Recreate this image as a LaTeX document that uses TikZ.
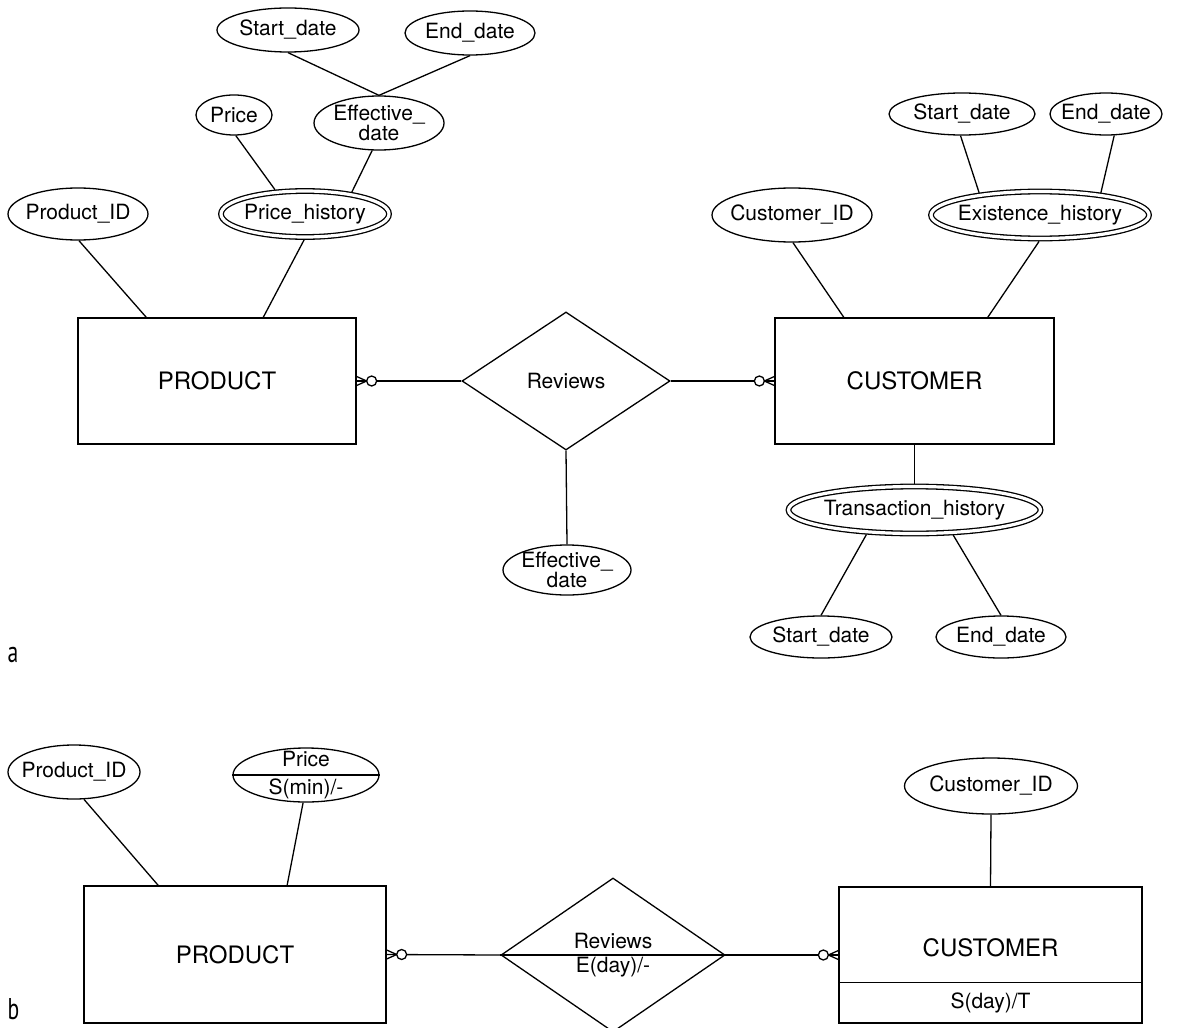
\documentclass[tikz,border=0pt]{standalone}
\usepackage{fontspec}
\usepackage{graphicx}
\setmainfont{TeX Gyre Heros}
\newfontfamily\labfont{PT Sans}
\usetikzlibrary{shapes.geometric,calc}
\begin{document}
\begin{tikzpicture}[x=1pt,y=-1pt,line width=1.3pt,
  attr/.style args={#1x#2}{ellipse,draw,minimum width=#1pt,minimum height=#2pt,
    inner xsep=-20pt,inner ysep=-6pt,font=\fontsize{21}{20}\selectfont,align=center},
  mattr/.style args={#1x#2}{attr=#1x#2,double,double distance=3.2pt,outer sep=2.9pt},
  entity/.style args={#1x#2}{rectangle,draw,minimum width=#1pt,minimum height=#2pt,
    inner sep=0pt,font=\fontsize{24}{28}\selectfont},
  rel/.style args={#1x#2}{diamond,draw,minimum width=#1pt,minimum height=#2pt,
    inner sep=-4pt,font=\fontsize{21}{24}\selectfont,align=center},
  txt/.style={inner sep=0pt,font=\fontsize{21}{24}\selectfont},
  panel/.style={inner sep=0pt,anchor=base west,font=\labfont\fontsize{30}{30}\selectfont},
  crowsfoot/.pic={\draw (0,4.5) -- (10,0) -- (0,-4.5); \draw[fill=white] (15,0) circle (5);}
]
\clip (0,0) rectangle (1182,1027);
\path[fill=white] (0,0) rectangle (1182,1027);

% ---------- part a ----------
\node[attr=142x44] (sd1) at (288,30) {Start\_date};
\node[attr=130x44] (ed1) at (470,33) {End\_date};
\node[attr=76x40] (pr1) at (234,115) {Price};
\node[attr=130x54] (ef1) at (379,123) {Effective\_\\date};
\node[mattr=168x46] (ph) at (305,214) {Price\_history};
\node[attr=140x52] (pid) at (78,214) {Product\_ID};
\node[entity=278x126] (prod) at (217,381) {PRODUCT};
\node[rel=208x138] (rev) at (566,381) {Reviews};
\node[entity=279x126] (cust) at (914.5,381) {CUSTOMER};
\node[attr=160x54] (cid) at (792,215) {Customer\_ID};
\node[mattr=218x47] (eh) at (1040,215) {Existence\_history};
\node[attr=146x42] (sd2) at (962,114) {Start\_date};
\node[attr=112x42] (ed2) at (1106,114) {End\_date};
\node[mattr=252x47] (th) at (914.5,510) {Transaction\_history};
\node[attr=142x42] (sd3) at (821,637) {Start\_date};
\node[attr=130x42] (ed3) at (1001,637) {End\_date};
\node[attr=128x50] (ef2) at (567,570) {Effective\_\\date};
\node[panel] (la) at (7,662) {\scalebox{0.72}[1]{a}};

\draw (sd1.south) -- (ef1.north);
\draw (ed1.south) -- (ef1.north);
\draw (pr1.-85) -- (ph.141);
\draw (ef1.-104) -- (ph.25);
\draw (pid.-88) -- (prod.138);
\draw (ph.-92) -- (prod.54);
\draw (sd2.-94) -- (eh.160);
\draw (ed2.-69) -- (eh.20);
\draw (cid.-88) -- (cust.138.6);
\draw (eh.-92) -- (cust.41.8);
\draw (cust.south) -- (th.north);
\draw (th.-153) -- (sd3.north);
\draw (th.-33) -- (ed3.north);
\draw (rev.south) -- (ef2.north);
\draw (rev.west) -- (prod.east);
\draw (rev.east) -- (cust.west);
\pic at (prod.east) {crowsfoot};
\pic[xscale=-1] at (cust.west) {crowsfoot};

% ---------- part b ----------
\node[attr=132x54] (pid2) at (74,772) {Product\_ID};
\node[attr=146x54,font=\fontsize{21}{28}\selectfont] (pr2) at (306,775) {Price\\S(min)/-};
\node[entity=302x137] (prod2) at (235,954.5) {PRODUCT};
\node[rel=224x154] (rev2) at (613,955) {Reviews\\E(day)/-};
\node[entity=303x136] (cust2) at (990.5,955) {};
\node[txt,font=\fontsize{24}{28}\selectfont] (cust2n) at (990.5,948) {CUSTOMER};
\node[txt] (cust2s) at (990.5,1003) {S(day)/T};
\node[attr=173x56] (cid2) at (991,786) {Customer\_ID};
\node[panel] (lb) at (7,1019) {\scalebox{0.72}[1]{b}};

\draw (pr2.west) -- (pr2.east);
\draw (rev2.west) -- (rev2.east);
\draw ([yshift=41pt]cust2.south west) -- ([yshift=41pt]cust2.south east);
\draw (pid2.-70) -- (prod2.138.7);
\draw (pr2.-96) -- (prod2.53.9);
\draw (cid2.south) -- (cust2.north);
\draw (rev2.west) -- (prod2.east);
\draw (rev2.east) -- (cust2.west);
\pic at (prod2.east) {crowsfoot};
\pic[xscale=-1] at (cust2.west) {crowsfoot};
\end{tikzpicture}
\end{document}
